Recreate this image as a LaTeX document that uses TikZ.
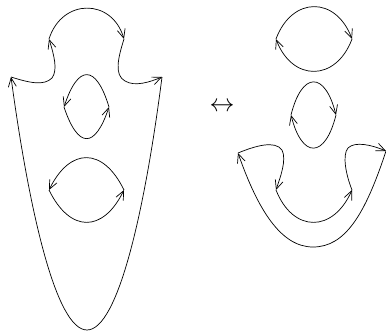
\documentclass[tikz,border=0pt]{standalone}
\usetikzlibrary{arrows.meta}
\begin{document}
\begin{tikzpicture}[x=1pt,y=-1pt,
  curve/.style={line width=0.7pt,-{Straight Barb[length=9pt,width=8pt,line width=0.7pt]}}]
\useasboundingbox (0,0) rectangle (386,332);
% ---------- left figure ----------
\coordinate (LL) at (11,77);
\coordinate (LS) at (49,39);
\coordinate (RS) at (124,39);
\coordinate (RR) at (162,77);
\coordinate (B) at (87,330);
\draw[curve] (LL) .. controls (30,83) and (44,86) .. (52,78) .. controls (58,70) and (54,55) .. (LS);
\draw[curve] (LS) .. controls (62,-2) and (112,-2) .. (RS);
\draw[curve] (RS) .. controls (118,58) and (114,75) .. (125,81) .. controls (135,87) and (150,82) .. (RR);
\draw[curve] (RR) .. controls (145,210) and (118,330) .. (B) .. controls (56,330) and (29,210) .. (LL);
% lens 1
\coordinate (a1) at (64,107);
\coordinate (b1) at (109,107);
\draw[curve] (b1) .. controls (96,64) and (78,64) .. (a1);
\draw[curve] (a1) .. controls (78,149) and (95,149) .. (b1);
% lens 2
\coordinate (a2) at (49,190);
\coordinate (b2) at (124,190);
\draw[curve] (b2) .. controls (103,147) and (70,147) .. (a2);
\draw[curve] (a2) .. controls (70,233) and (103,233) .. (b2);
% ---------- arrow ----------
\node (eq) at (222,107) {\fontsize{24}{24}\selectfont$\leftrightarrow$};
% ---------- right figure ----------
\coordinate (a3) at (276,39);
\coordinate (b3) at (352,39);
\draw[curve] (a3) .. controls (292,-4) and (336,-4) .. (b3);
\draw[curve] (b3) .. controls (336,82) and (292,82) .. (a3);
\coordinate (a4) at (291,115);
\coordinate (b4) at (336,115);
\draw[curve] (a4) .. controls (302,71) and (325,71) .. (b4);
\draw[curve] (b4) .. controls (325,159) and (302,159) .. (a4);
% U shape
\coordinate (OL) at (238,153);
\coordinate (IL) at (276,190);
\coordinate (IR) at (352,190);
\coordinate (OR) at (386,151);
\draw[curve] (OL) .. controls (255,146) and (275,140) .. (282,150) .. controls (287,160) and (280,178) .. (IL);
\draw[curve] (IL) .. controls (293,233) and (333,233) .. (IR);
\draw[curve] (IR) .. controls (346,175) and (342,155) .. (348,148) .. controls (355,141) and (372,145) .. (OR);
\draw[curve] (OR) .. controls (365,215) and (345,247) .. (313,247) .. controls (281,247) and (258,210) .. (OL);
\end{tikzpicture}
\end{document}
